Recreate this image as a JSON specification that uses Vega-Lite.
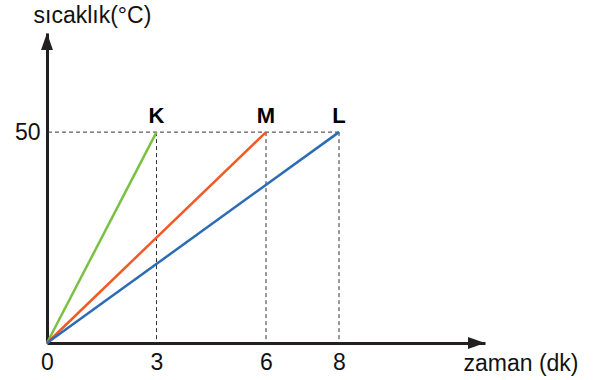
{
  "$schema": "https://vega.github.io/schema/vega-lite/v6.json",
  "width": 438,
  "height": 310,
  "autosize": {"type": "none"},
  "padding": {"left": 47, "top": 33, "right": 117, "bottom": 37},
  "background": "white",
  "config": {"view": {"stroke": null}, "font": "Liberation Sans"},
  "encoding": {
    "x": {
      "field": "t",
      "type": "quantitative",
      "scale": {"domain": [0, 12], "nice": false, "zero": true},
      "axis": {
        "values": [0, 3, 6, 8],
        "grid": false,
        "ticks": false,
        "tickSize": 0,
        "labelFontSize": 23,
        "labelColor": "#111111",
        "labelPadding": 8,
        "labelFlush": false,
        "domainColor": "#231f20",
        "domainWidth": 3,
        "title": "zaman (dk)",
        "titleFontSize": 23,
        "titleFontWeight": "normal",
        "titleColor": "#111111",
        "titleX": 531,
        "titleY": 27,
        "titleAlign": "right",
        "titleBaseline": "alphabetic"
      }
    },
    "y": {
      "field": "temp",
      "type": "quantitative",
      "scale": {"domain": [0, 73.5], "nice": false, "zero": true},
      "axis": {
        "values": [50],
        "grid": false,
        "ticks": false,
        "tickSize": 0,
        "labelFontSize": 23,
        "labelColor": "#111111",
        "labelPadding": 7,
        "domainColor": "#231f20",
        "domainWidth": 3,
        "title": "sıcaklık(°C)",
        "titleFontSize": 23,
        "titleFontWeight": "normal",
        "titleColor": "#111111",
        "titleAngle": 0,
        "titleX": -14,
        "titleY": -11,
        "titleAlign": "left",
        "titleBaseline": "alphabetic"
      }
    }
  },
  "layer": [
    {
      "data": {"values": [{"t": 3, "temp": 50}, {"t": 6, "temp": 50}, {"t": 8, "temp": 50}]},
      "mark": {"type": "rule", "color": "#333333", "strokeWidth": 1, "strokeDash": [4, 3]},
      "encoding": {"y2": {"datum": 0}}
    },
    {
      "data": {"values": [{"t": 8, "temp": 50}]},
      "mark": {"type": "rule", "color": "#333333", "strokeWidth": 1, "strokeDash": [4, 3]},
      "encoding": {"x2": {"datum": 0}}
    },
    {
      "data": {
        "values": [
          {"series": "K", "t": 0, "temp": 0},
          {"series": "K", "t": 3, "temp": 50},
          {"series": "M", "t": 0, "temp": 0},
          {"series": "M", "t": 6, "temp": 50},
          {"series": "L", "t": 0, "temp": 0},
          {"series": "L", "t": 8, "temp": 50}
        ]
      },
      "mark": {"type": "line", "strokeWidth": 2.5},
      "encoding": {
        "color": {
          "field": "series",
          "type": "nominal",
          "scale": {"domain": ["K", "M", "L"], "range": ["#7ac143", "#f15a24", "#2b6cb5"]},
          "legend": null
        }
      }
    },
    {
      "data": {"values": [{"series": "K", "t": 3, "temp": 50}, {"series": "M", "t": 6, "temp": 50}, {"series": "L", "t": 8, "temp": 50}]},
      "mark": {"type": "text", "fontSize": 22, "fontWeight": "bold", "color": "#000000", "dy": -9, "baseline": "alphabetic", "align": "center"},
      "encoding": {"text": {"field": "series"}}
    },
    {
      "data": {"values": [{"t": 12, "temp": 0}]},
      "mark": {"type": "point", "shape": "M0,0L-2,-0.7L-2,0.7Z", "size": 289, "filled": true, "color": "#231f20", "opacity": 1}
    },
    {
      "data": {"values": [{"t": 0, "temp": 73.5}]},
      "mark": {"type": "point", "shape": "M0,0L-0.7,2L0.7,2Z", "size": 289, "filled": true, "color": "#231f20", "opacity": 1}
    }
  ]
}
